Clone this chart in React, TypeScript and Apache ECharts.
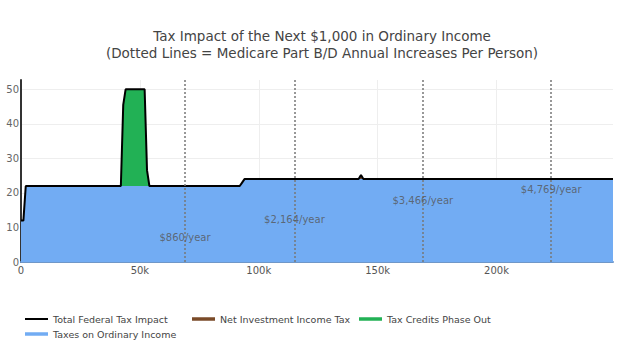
import React, { useEffect, useRef } from "react";
import * as echarts from "echarts";

const income = [0, 1000, 2000, 42000, 43000, 44000, 52000, 53000, 54000, 92000, 93000, 94000, 142000, 143000, 144000, 249000];
const ordinaryTax = [12, 12, 22, 22, 22, 22, 22, 22, 22, 22, 23, 24, 24, 24, 24, 24];
const niitTax = [0, 0, 0, 0, 0, 0, 0, 0, 0, 0, 0, 0, 0, 1.2, 0, 0];
const creditsPhaseOut = [0, 0, 0, 0, 23.5, 28, 28, 4.6, 0, 0, 0, 0, 0, 0, 0, 0];
const totalImpact = [12, 12, 22, 22, 45.5, 50, 50, 26.6, 22, 22, 23, 24, 24, 25.2, 24, 24];

const medicareX = [69000, 115000, 169000, 223000];
const medicareLabelY = [7.1, 12.3, 17.9, 21.0];
const medicareLabels = ["$860/year", "$2,164/year", "$3,466/year", "$4,769/year"];

const FONT = "DejaVu Sans";
const BLUE = "#72acf3";
const GREEN = "#22b155";
const BROWN = "#7a4a28";

export default function App() {
  const ref = useRef<HTMLDivElement>(null);
  useEffect(() => {
    if (!ref.current) return;
    const chart = echarts.init(ref.current, undefined, { renderer: "svg" });
    // stacked tops (manual stacking: ordinary, + NIIT, + credits)
    const lvl1 = ordinaryTax;
    const lvl2 = ordinaryTax.map((v, i) => v + niitTax[i]);
    const lvl3 = lvl2.map((v, i) => v + creditsPhaseOut[i]);
    const pairs = (vals: number[]) => income.map((x, i) => [x, vals[i]]);
    const legendItem = (name: string, color: string, left: number, top: number, h: number) => ({
      left,
      top,
      padding: 0,
      itemWidth: 23,
      itemHeight: h,
      textStyle: { color: "#444", fontSize: 9.5, fontFamily: FONT },
      selectedMode: false,
      data: [{ name, icon: "rect", itemStyle: { color, borderWidth: 0 } }],
    });
    const area = (name: string, vals: number[], color: string, z: number) => ({
      name,
      type: "line",
      data: pairs(vals),
      showSymbol: false,
      lineStyle: { width: 0, color },
      itemStyle: { color },
      areaStyle: { color, opacity: 1 },
      z,
    });
    chart.setOption({
      animation: false,
      textStyle: { fontFamily: FONT },
      title: {
        text: "Tax Impact of the Next $1,000 in Ordinary Income\n(Dotted Lines = Medicare Part B/D Annual Increases Per Person)",
        left: 317,
        top: 22,
        textAlign: "center",
        textStyle: { fontSize: 13.5, fontWeight: "normal", color: "#444", fontFamily: FONT, lineHeight: 17 },
      },
      legend: [
        legendItem("Total Federal Tax Impact", "#000", 25, 314, 2),
        legendItem("Net Investment Income Tax", BROWN, 192, 314, 3.5),
        legendItem("Tax Credits Phase Out", GREEN, 359, 314, 3.5),
        legendItem("Taxes on Ordinary Income", BLUE, 25, 329, 3.5),
      ],
      grid: { left: 21, right: 11, top: 80, bottom: 93, containLabel: false },
      xAxis: {
        type: "value",
        min: 0,
        max: 249000,
        interval: 50000,
        axisLine: { show: true, onZero: false, lineStyle: { color: "#6f97c8", width: 2 } },
        axisTick: { show: false },
        axisLabel: {
          color: "#555",
          fontSize: 10,
          fontFamily: FONT,
          margin: 3,
          showMaxLabel: false,
          formatter: (v: number) => (v === 0 ? "0" : v / 1000 + "k"),
        },
        splitLine: { show: true, showMinLine: false, showMaxLine: false, lineStyle: { color: "#eee" } },
      },
      yAxis: {
        type: "value",
        min: 0,
        max: 52.7,
        interval: 10,
        axisLine: { show: true, lineStyle: { color: "#333", width: 2 } },
        axisTick: { show: false },
        axisLabel: { color: "#666", fontSize: 10, fontFamily: FONT, margin: 2, showMaxLabel: false },
        splitLine: { show: true, showMinLine: false, showMaxLine: false, lineStyle: { color: "#eee" } },
      },
      series: [
        area("Tax Credits Phase Out", lvl3, GREEN, 1),
        area("Net Investment Income Tax", lvl2, BROWN, 2),
        area("Taxes on Ordinary Income", lvl1, BLUE, 3),
        {
          name: "Total Federal Tax Impact",
          type: "line",
          data: pairs(totalImpact),
          showSymbol: false,
          lineStyle: { width: 2, color: "#000" },
          itemStyle: { color: "#000" },
          z: 4,
          markLine: {
            silent: true,
            symbol: "none",
            label: { show: false },
            lineStyle: { type: [2, 2], color: "#777", width: 1.5 },
            data: medicareX.map((x) => ({ xAxis: x })),
          },
        },
        {
          name: "annotations",
          type: "scatter",
          symbolSize: 0,
          z: 5,
          data: medicareX.map((x, i) => ({ value: [x, medicareLabelY[i]], label: { formatter: medicareLabels[i] } })),
          label: { show: true, position: "inside", color: "#555", fontSize: 10, fontFamily: FONT },
        },
      ],
    });
    return () => chart.dispose();
  }, []);
  return <div ref={ref} style={{ position: "absolute", left: 0, top: 0, width: 624, height: 355 }} />;
}
